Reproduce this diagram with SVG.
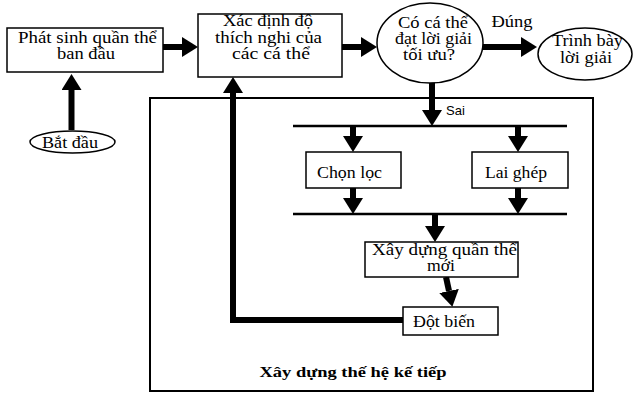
<svg xmlns="http://www.w3.org/2000/svg" width="633" height="393" viewBox="0 0 633 393">
<defs>
<marker id="ah" viewBox="0 -10 16 20" refX="0" refY="0" markerWidth="16" markerHeight="20" markerUnits="userSpaceOnUse" orient="auto">
<path d="M0,-10 L16,0 L0,10 z" fill="#000"/>
</marker>
</defs>
<style>
.box{fill:#fff;stroke:#000;stroke-width:1.5}
.t{font-family:"Liberation Serif","Times New Roman",serif;font-size:16px;fill:#000;text-anchor:middle}
.arr{stroke:#000;stroke-width:6;fill:none;marker-end:url(#ah)}
.bar{stroke:#000;stroke-width:2.5}
</style>
<rect width="633" height="393" fill="#fff"/>
<g id="frame">
<rect x="150" y="98" width="443" height="293" fill="none" stroke="#000" stroke-width="2"/>
<text x="353" y="377" class="t" style="font-size:15px;font-weight:bold" textLength="187" lengthAdjust="spacingAndGlyphs">Xây dựng thế hệ kế tiếp</text>
</g>
<g id="connectors">
<line class="arr" x1="71.5" y1="130" x2="71.5" y2="90"/>
<line class="arr" x1="163" y1="47" x2="182" y2="47"/>
<line class="arr" x1="342" y1="47" x2="361" y2="47"/>
<line class="arr" x1="483" y1="47" x2="521" y2="47"/>
<line class="arr" x1="432" y1="82" x2="432" y2="110"/>
<line class="bar" x1="293" y1="126" x2="567" y2="126"/>
<line class="arr" x1="353" y1="126" x2="353" y2="136"/>
<line class="arr" x1="518" y1="126" x2="518" y2="136"/>
<line class="arr" x1="353" y1="188" x2="353" y2="198"/>
<line class="arr" x1="518" y1="188" x2="518" y2="198"/>
<line class="bar" x1="293" y1="214" x2="567" y2="214"/>
<line class="arr" x1="435" y1="214" x2="435" y2="226"/>
<line class="arr" x1="446" y1="277" x2="449" y2="291"/>
<polyline class="arr" points="403,320 233,320 233,93"/>
<text x="446" y="115" style="font-family:'Liberation Sans',Arial,sans-serif;font-size:13px">Sai</text>
<text x="512" y="27" class="t" textLength="41" lengthAdjust="spacingAndGlyphs">Đúng</text>
</g>
<g id="start">
<ellipse cx="72.5" cy="142" rx="42.5" ry="11" class="box"/>
<text x="70" y="148" class="t" textLength="56" lengthAdjust="spacingAndGlyphs">Bắt đầu</text>
</g>
<g id="init">
<rect x="7" y="28" width="156" height="44" class="box"/>
<text x="87.5" y="43" class="t" textLength="139" lengthAdjust="spacingAndGlyphs">Phát sinh quần thể</text>
<text x="86" y="59" class="t" textLength="58" lengthAdjust="spacingAndGlyphs">ban đầu</text>
</g>
<g id="fitness">
<rect x="198" y="14" width="144" height="63" class="box"/>
<text x="268" y="26" class="t" textLength="90" lengthAdjust="spacingAndGlyphs">Xác định độ</text>
<text x="268.5" y="43" class="t" textLength="107" lengthAdjust="spacingAndGlyphs">thích nghi của</text>
<text x="271" y="59" class="t" textLength="78" lengthAdjust="spacingAndGlyphs">các cá thể</text>
</g>
<g id="decision">
<ellipse cx="430" cy="43" rx="53" ry="40" class="box"/>
<text x="433" y="28" class="t" textLength="70" lengthAdjust="spacingAndGlyphs">Có cá thể</text>
<text x="433.5" y="44" class="t" textLength="77" lengthAdjust="spacingAndGlyphs">đạt lời giải</text>
<text x="429" y="60" class="t" textLength="52" lengthAdjust="spacingAndGlyphs">tối ưu?</text>
</g>
<g id="result">
<ellipse cx="585" cy="54" rx="47" ry="26" class="box"/>
<text x="587.5" y="46" class="t" textLength="71" lengthAdjust="spacingAndGlyphs">Trình bày</text>
<text x="586" y="63" class="t" textLength="52" lengthAdjust="spacingAndGlyphs">lời giải</text>
</g>
<g id="selection">
<rect x="306" y="152" width="95" height="36" class="box"/>
<text x="349.5" y="178" class="t" textLength="65" lengthAdjust="spacingAndGlyphs">Chọn lọc</text>
</g>
<g id="crossover">
<rect x="472" y="152" width="96" height="36" class="box"/>
<text x="516" y="178" class="t" textLength="62" lengthAdjust="spacingAndGlyphs">Lai ghép</text>
</g>
<g id="newpop">
<rect x="365" y="242" width="153" height="35" class="box"/>
<text x="444.5" y="255" class="t" textLength="145" lengthAdjust="spacingAndGlyphs">Xây dựng quần thể</text>
<text x="441" y="271" class="t" textLength="28" lengthAdjust="spacingAndGlyphs">mới</text>
</g>
<g id="mutation">
<rect x="403" y="307" width="95" height="28" class="box"/>
<text x="444" y="327" class="t" textLength="62" lengthAdjust="spacingAndGlyphs">Đột biến</text>
</g>
</svg>
